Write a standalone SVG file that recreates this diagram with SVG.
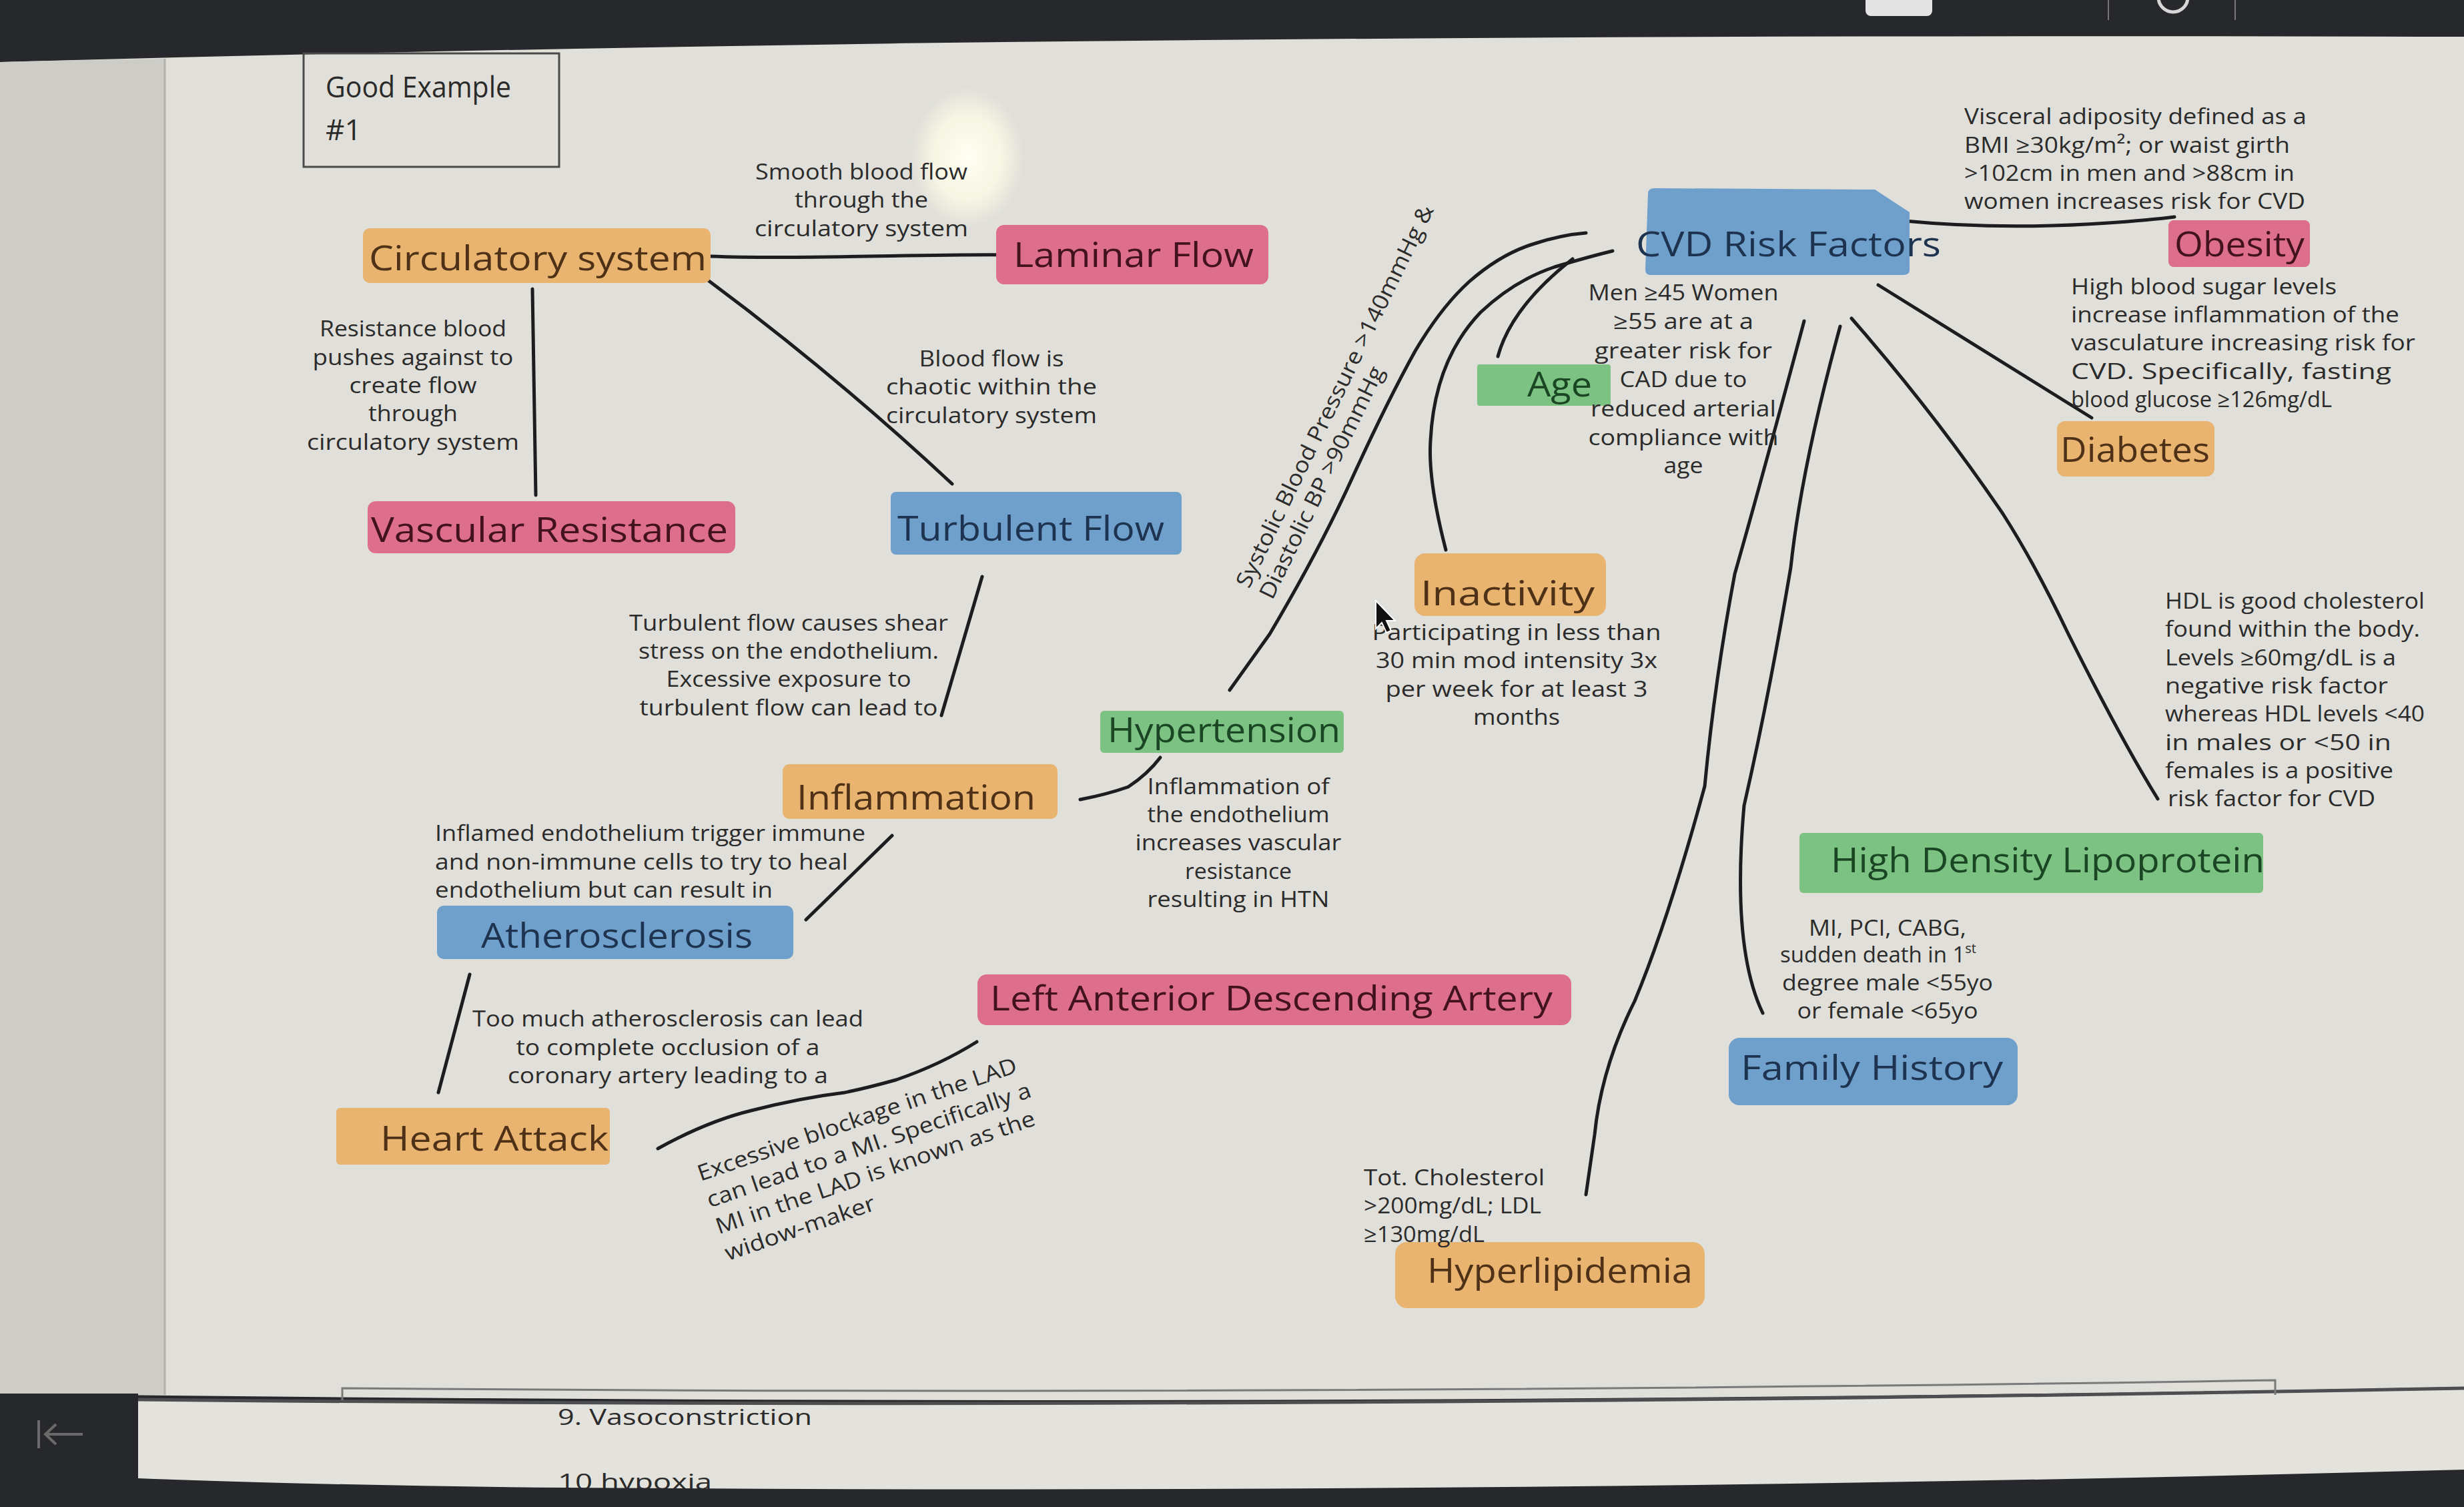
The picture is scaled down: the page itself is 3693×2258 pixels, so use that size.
<svg xmlns="http://www.w3.org/2000/svg" width="3693" height="2258" viewBox="0 0 3693 2258">
<style>
.lbl{font-family:"Open Sans","DejaVu Sans",sans-serif;font-size:52px;}
.ann{font-family:"Open Sans","DejaVu Sans",sans-serif;font-size:33px;fill:#2b2b2b;}
.c{text-anchor:middle;}
.edge{fill:none;stroke:#1d1d1f;stroke-width:5;stroke-linecap:round;stroke-linejoin:round;}
.or{fill:#e8b46f;} .pk{fill:#dd6f8d;} .bl{fill:#6f9fcb;} .gr{fill:#7cc282;}
.tor{fill:#4e3117;} .tpk{fill:#43121f;} .tbl{fill:#1d3350;} .tgr{fill:#1b4624;}
</style>
<defs>
<radialGradient id="glare" cx="0.5" cy="0.5" r="0.5">
<stop offset="0" stop-color="#fffff4" stop-opacity="1"/>
<stop offset="0.6" stop-color="#fdfbe6" stop-opacity="0.8"/>
<stop offset="1" stop-color="#fdfbe6" stop-opacity="0"/>
</radialGradient>
</defs>

<!-- background / photo frame -->
<rect x="0" y="0" width="3693" height="2258" fill="#26282b"/>
<path d="M0,93 Q900,68 1800,60 T3693,55 L3693,2078 Q1900,2112 0,2088 Z" fill="#e0dfd9"/>
<path d="M0,93 Q120,90 247,88 L247,2090 L0,2088 Z" fill="#cdccc7"/>
<line x1="247" y1="88" x2="247" y2="2090" stroke="#b3b2ad" stroke-width="3"/>
<path d="M207,2096 Q1900,2114 3693,2080 L3693,2240 L207,2240 Z" fill="#e3e2dd"/>
<path d="M207,2097 Q1900,2114 3693,2080" fill="none" stroke="#4d4e50" stroke-width="5"/>
<path d="M513,2098 L513,2080 Q1900,2092 3410,2068 L3410,2090" fill="none" stroke="#7a7a7a" stroke-width="3"/>
<ellipse cx="1450" cy="236" rx="85" ry="105" fill="url(#glare)"/>
<rect x="2796" y="-20" width="100" height="44" rx="8" fill="#e4e4e4"/>
<circle cx="3257" cy="-4" r="22" fill="none" stroke="#d6d6d6" stroke-width="5"/>
<line x1="3160" y1="0" x2="3160" y2="30" stroke="#777" stroke-width="2"/>
<line x1="3350" y1="0" x2="3350" y2="30" stroke="#777" stroke-width="2"/>

<!-- bottom list texts -->
<text class="ann" x="836" y="2135" font-size="44" fill="#333" textLength="381" lengthAdjust="spacingAndGlyphs">9. Vasoconstriction</text>
<text class="ann" x="836" y="2232" font-size="44" fill="#333" textLength="231" lengthAdjust="spacingAndGlyphs">10 hypoxia</text>
<path d="M0,2258 L0,2088 L207,2088 L207,2215 Q500,2226 848,2229 Q2300,2240 3693,2202 L3693,2258 Z" fill="#26282b"/>
<g stroke="#6a6a6a" stroke-width="4" fill="none">
<line x1="58" y1="2128" x2="58" y2="2170"/>
<line x1="68" y1="2149" x2="124" y2="2149"/>
<path d="M84,2134 L68,2149 L84,2164"/>
</g>

<!-- title box -->
<g id="title">
<rect x="455" y="80" width="383" height="170" fill="none" stroke="#4a4a4a" stroke-width="3"/>
<text x="488" y="146" font-family="Open Sans, DejaVu Sans, sans-serif" font-size="44" fill="#2a2a2a" textLength="278" lengthAdjust="spacingAndGlyphs">Good Example</text>
<text x="488" y="210" font-family="Open Sans, DejaVu Sans, sans-serif" font-size="44" fill="#2a2a2a">#1</text>
</g>

<!-- connectors -->
<g id="connectors">
<path class="edge" stroke-width="6" d="M1065,384 C1200,389 1400,380 1519,382"/>
<path class="edge" stroke-width="4" d="M798,433 L803,742"/>
<path class="edge" d="M1060,419 Q1250,560 1427,725"/>
<path class="edge" d="M1472,864 L1411,1072"/>
<path class="edge" stroke-width="6" d="M1619,1198 Q1660,1190 1691,1179 Q1720,1160 1739,1135"/>
<path class="edge" d="M1843,1034 L1903,950 Q1980,820 2030,709 Q2080,600 2121,526 Q2160,460 2202,422 Q2250,380 2300,365 Q2340,352 2377,349"/>
<path class="edge" d="M2167,824 Q2140,720 2144,660 Q2150,540 2219,468 Q2270,420 2330,400 Q2380,385 2417,376"/>
<path class="edge" d="M2245,534 Q2265,460 2357,388"/>
<path class="edge" d="M2855,331 Q3000,345 3160,334 Q3220,330 3259,325"/>
<path class="edge" d="M2815,427 L3135,626"/>
<path class="edge" d="M2775,477 Q2900,620 3002,770 Q3050,845 3100,950 Q3180,1110 3234,1197"/>
<path class="edge" d="M2758,489 Q2700,700 2684,850 Q2650,1050 2614,1207 Q2595,1420 2642,1518"/>
<path class="edge" d="M2704,481 Q2640,720 2600,860 Q2570,1020 2555,1178 Q2500,1380 2450,1500 Q2400,1600 2390,1700 L2377,1790"/>
<path class="edge" d="M1337,1252 L1208,1378"/>
<path class="edge" stroke-width="4" d="M704,1460 L657,1637"/>
<path class="edge" stroke-width="7" d="M986,1721 Q1060,1680 1126,1664 Q1200,1645 1266,1637 Q1300,1630 1343,1618 Q1410,1595 1464,1561"/>
</g>

<!-- nodes -->
<g id="n-circulatory"><rect class="or" x="544" y="342" width="521" height="82" rx="10"/><text class="lbl tor" x="553" y="405" textLength="506" lengthAdjust="spacingAndGlyphs">Circulatory system</text></g>
<g id="n-laminar"><rect class="pk" x="1493" y="337" width="408" height="89" rx="12"/><text class="lbl tpk" x="1519" y="400" textLength="360" lengthAdjust="spacingAndGlyphs">Laminar Flow</text></g>
<g id="n-vascular"><rect class="pk" x="551" y="751" width="551" height="78" rx="12"/><text class="lbl tpk" x="556" y="812" textLength="535" lengthAdjust="spacingAndGlyphs">Vascular Resistance</text></g>
<g id="n-turbulent"><rect class="bl" x="1335" y="737" width="436" height="94" rx="8"/><text class="lbl tbl" x="1345" y="810" textLength="400" lengthAdjust="spacingAndGlyphs">Turbulent Flow</text></g>
<g id="n-inflammation"><rect class="or" x="1173" y="1145" width="412" height="82" rx="10"/><text class="lbl tor" x="1194" y="1213" textLength="358" lengthAdjust="spacingAndGlyphs">Inflammation</text></g>
<g id="n-hypertension"><rect class="gr" x="1649" y="1065" width="365" height="63" rx="6"/><text class="lbl tgr" x="1660" y="1112" font-size="48" textLength="349" lengthAdjust="spacingAndGlyphs">Hypertension</text></g>
<g id="n-atherosclerosis"><rect class="bl" x="655" y="1357" width="534" height="80" rx="10"/><text class="lbl tbl" x="721" y="1420" textLength="407" lengthAdjust="spacingAndGlyphs">Atherosclerosis</text></g>
<g id="n-lad"><rect class="pk" x="1465" y="1460" width="890" height="76" rx="14"/><text class="lbl tpk" x="1484" y="1514" textLength="843" lengthAdjust="spacingAndGlyphs">Left Anterior Descending Artery</text></g>
<g id="n-heartattack"><rect class="or" x="504" y="1660" width="410" height="85" rx="6"/><text class="lbl tor" x="570" y="1724" textLength="342" lengthAdjust="spacingAndGlyphs">Heart Attack</text></g>
<g id="n-hyperlipidemia"><rect class="or" x="2091" y="1861" width="464" height="99" rx="18"/><text class="lbl tor" x="2139" y="1922" textLength="398" lengthAdjust="spacingAndGlyphs">Hyperlipidemia</text></g>
<g id="n-inactivity"><rect class="or" x="2120" y="829" width="287" height="94" rx="16"/><text class="lbl tor" x="2129" y="907" textLength="261" lengthAdjust="spacingAndGlyphs">Inactivity</text></g>
<g id="n-age"><rect class="gr" x="2214" y="546" width="200" height="62" rx="4"/><text class="lbl tgr" x="2289" y="594" textLength="97" lengthAdjust="spacingAndGlyphs">Age</text></g>
<g id="n-cvd"><path class="bl" d="M2470,290 Q2470,282 2480,282 L2810,284 L2862,318 L2862,405 Q2862,412 2852,412 L2474,412 Q2466,412 2466,404 Z"/><text class="lbl tbl" x="2452" y="384" textLength="457" lengthAdjust="spacingAndGlyphs">CVD Risk Factors</text></g>
<g id="n-obesity"><rect class="pk" x="3250" y="330" width="212" height="70" rx="8"/><text class="lbl tpk" x="3259" y="384" textLength="195" lengthAdjust="spacingAndGlyphs">Obesity</text></g>
<g id="n-diabetes"><rect class="or" x="3083" y="631" width="236" height="83" rx="12"/><text class="lbl tor" x="3088" y="692" textLength="224" lengthAdjust="spacingAndGlyphs">Diabetes</text></g>
<g id="n-hdl"><rect class="gr" x="2697" y="1248" width="695" height="90" rx="6"/><text class="lbl tgr" x="2744" y="1307" textLength="650" lengthAdjust="spacingAndGlyphs">High Density Lipoprotein</text></g>
<g id="n-familyhistory"><rect class="bl" x="2591" y="1555" width="433" height="101" rx="16"/><text class="lbl tbl" x="2609" y="1618" textLength="393" lengthAdjust="spacingAndGlyphs">Family History</text></g>

<!-- annotations -->
<g id="annotations">
<text class="ann c" x="1291" y="269" textLength="318" lengthAdjust="spacingAndGlyphs">Smooth blood flow</text>
<text class="ann c" x="1291" y="311" textLength="200" lengthAdjust="spacingAndGlyphs">through the</text>
<text class="ann c" x="1291" y="354" textLength="320" lengthAdjust="spacingAndGlyphs">circulatory system</text>

<text class="ann c" x="619" y="504" textLength="280" lengthAdjust="spacingAndGlyphs">Resistance blood</text>
<text class="ann c" x="619" y="547" textLength="301" lengthAdjust="spacingAndGlyphs">pushes against to</text>
<text class="ann c" x="619" y="589" textLength="191" lengthAdjust="spacingAndGlyphs">create flow</text>
<text class="ann c" x="619" y="631" textLength="134" lengthAdjust="spacingAndGlyphs">through</text>
<text class="ann c" x="619" y="674" textLength="318" lengthAdjust="spacingAndGlyphs">circulatory system</text>

<text class="ann c" x="1486" y="549" textLength="217" lengthAdjust="spacingAndGlyphs">Blood flow is</text>
<text class="ann c" x="1486" y="591" textLength="316" lengthAdjust="spacingAndGlyphs">chaotic within the</text>
<text class="ann c" x="1486" y="634" textLength="316" lengthAdjust="spacingAndGlyphs">circulatory system</text>

<text class="ann c" x="1182" y="945" textLength="478" lengthAdjust="spacingAndGlyphs">Turbulent flow causes shear</text>
<text class="ann c" x="1182" y="987" textLength="450" lengthAdjust="spacingAndGlyphs">stress on the endothelium.</text>
<text class="ann c" x="1182" y="1029" textLength="367" lengthAdjust="spacingAndGlyphs">Excessive exposure to</text>
<text class="ann c" x="1182" y="1072" textLength="447" lengthAdjust="spacingAndGlyphs">turbulent flow can lead to</text>

<text class="ann" x="652" y="1260" textLength="645" lengthAdjust="spacingAndGlyphs">Inflamed endothelium trigger immune</text>
<text class="ann" x="652" y="1303" textLength="619" lengthAdjust="spacingAndGlyphs">and non-immune cells to try to heal</text>
<text class="ann" x="652" y="1345" textLength="506" lengthAdjust="spacingAndGlyphs">endothelium but can result in</text>

<text class="ann c" x="1856" y="1190" textLength="273" lengthAdjust="spacingAndGlyphs">Inflammation of</text>
<text class="ann c" x="1856" y="1232" textLength="273" lengthAdjust="spacingAndGlyphs">the endothelium</text>
<text class="ann c" x="1856" y="1274" textLength="309" lengthAdjust="spacingAndGlyphs">increases vascular</text>
<text class="ann c" x="1856" y="1317" textLength="160" lengthAdjust="spacingAndGlyphs">resistance</text>
<text class="ann c" x="1856" y="1359" textLength="273" lengthAdjust="spacingAndGlyphs">resulting in HTN</text>

<text class="ann c" x="1001" y="1538" textLength="586" lengthAdjust="spacingAndGlyphs">Too much atherosclerosis can lead</text>
<text class="ann c" x="1001" y="1581" textLength="455" lengthAdjust="spacingAndGlyphs">to complete occlusion of a</text>
<text class="ann c" x="1001" y="1623" textLength="480" lengthAdjust="spacingAndGlyphs">coronary artery leading to a</text>

<g transform="rotate(-19 1050 1770)">
<text class="ann" x="1050" y="1770" font-size="36" textLength="504" lengthAdjust="spacingAndGlyphs">Excessive blockage in the LAD</text>
<text class="ann" x="1050" y="1812" font-size="36" textLength="512" lengthAdjust="spacingAndGlyphs">can lead to a MI. Specifically a</text>
<text class="ann" x="1050" y="1854" font-size="36" textLength="504" lengthAdjust="spacingAndGlyphs">MI in the LAD is known as the</text>
<text class="ann" x="1050" y="1896" font-size="36" textLength="236" lengthAdjust="spacingAndGlyphs">widow-maker</text>
</g>

<g transform="rotate(-64 1872 883)">
<text class="ann" x="1872" y="883" font-size="35" textLength="633" lengthAdjust="spacingAndGlyphs">Systolic Blood Pressure &gt;140mmHg &amp;</text>
<text class="ann" x="1872" y="922" font-size="35" textLength="383" lengthAdjust="spacingAndGlyphs">Diastolic BP &gt;90mmHg</text>
</g>

<text class="ann c" x="2523" y="450" textLength="285" lengthAdjust="spacingAndGlyphs">Men ≥45 Women</text>
<text class="ann c" x="2523" y="493" textLength="210" lengthAdjust="spacingAndGlyphs">≥55 are at a</text>
<text class="ann c" x="2523" y="537" textLength="266" lengthAdjust="spacingAndGlyphs">greater risk for</text>
<text class="ann c" x="2523" y="580" textLength="191" lengthAdjust="spacingAndGlyphs">CAD due to</text>
<text class="ann c" x="2523" y="624" textLength="278" lengthAdjust="spacingAndGlyphs">reduced arterial</text>
<text class="ann c" x="2523" y="667" textLength="285" lengthAdjust="spacingAndGlyphs">compliance with</text>
<text class="ann c" x="2523" y="709" textLength="59" lengthAdjust="spacingAndGlyphs">age</text>

<text class="ann c" x="2273" y="959" textLength="433" lengthAdjust="spacingAndGlyphs">Participating in less than</text>
<text class="ann c" x="2273" y="1001" textLength="422" lengthAdjust="spacingAndGlyphs">30 min mod intensity 3x</text>
<text class="ann c" x="2273" y="1044" textLength="393" lengthAdjust="spacingAndGlyphs">per week for at least 3</text>
<text class="ann c" x="2273" y="1086" textLength="130" lengthAdjust="spacingAndGlyphs">months</text>

<text class="ann" x="2944" y="186" textLength="513" lengthAdjust="spacingAndGlyphs">Visceral adiposity defined as a</text>
<text class="ann" x="2944" y="229" textLength="488" lengthAdjust="spacingAndGlyphs">BMI ≥30kg/m²; or waist girth</text>
<text class="ann" x="2944" y="271" textLength="495" lengthAdjust="spacingAndGlyphs">&gt;102cm in men and &gt;88cm in</text>
<text class="ann" x="2944" y="313" textLength="511" lengthAdjust="spacingAndGlyphs">women increases risk for CVD</text>

<text class="ann" x="3104" y="441" textLength="398" lengthAdjust="spacingAndGlyphs">High blood sugar levels</text>
<text class="ann" x="3104" y="483" textLength="492" lengthAdjust="spacingAndGlyphs">increase inflammation of the</text>
<text class="ann" x="3104" y="525" textLength="516" lengthAdjust="spacingAndGlyphs">vasculature increasing risk for</text>
<text class="ann" x="3104" y="568" textLength="480" lengthAdjust="spacingAndGlyphs">CVD. Specifically, fasting</text>
<text class="ann" x="3104" y="610" textLength="391" lengthAdjust="spacingAndGlyphs">blood glucose ≥126mg/dL</text>

<text class="ann" x="3245" y="912" textLength="389" lengthAdjust="spacingAndGlyphs">HDL is good cholesterol</text>
<text class="ann" x="3245" y="954" textLength="382" lengthAdjust="spacingAndGlyphs">found within the body.</text>
<text class="ann" x="3245" y="997" textLength="346" lengthAdjust="spacingAndGlyphs">Levels ≥60mg/dL is a</text>
<text class="ann" x="3245" y="1039" textLength="334" lengthAdjust="spacingAndGlyphs">negative risk factor</text>
<text class="ann" x="3245" y="1081" textLength="389" lengthAdjust="spacingAndGlyphs">whereas HDL levels &lt;40</text>
<text class="ann" x="3245" y="1124" textLength="339" lengthAdjust="spacingAndGlyphs">in males or &lt;50 in</text>
<text class="ann" x="3245" y="1166" textLength="342" lengthAdjust="spacingAndGlyphs">females is a positive</text>
<text class="ann" x="3249" y="1208" textLength="311" lengthAdjust="spacingAndGlyphs">risk factor for CVD</text>

<text class="ann c" x="2829" y="1402" textLength="236" lengthAdjust="spacingAndGlyphs">MI, PCI, CABG,</text>
<text class="ann" x="2668" y="1442">sudden death in 1<tspan font-size="20" dy="-14">st</tspan></text>
<text class="ann c" x="2829" y="1484" textLength="316" lengthAdjust="spacingAndGlyphs">degree male &lt;55yo</text>
<text class="ann c" x="2829" y="1526" textLength="271" lengthAdjust="spacingAndGlyphs">or female &lt;65yo</text>

<text class="ann" x="2044" y="1776" textLength="271" lengthAdjust="spacingAndGlyphs">Tot. Cholesterol</text>
<text class="ann" x="2044" y="1818" textLength="266" lengthAdjust="spacingAndGlyphs">&gt;200mg/dL; LDL</text>
<text class="ann" x="2044" y="1861" textLength="181" lengthAdjust="spacingAndGlyphs">≥130mg/dL</text>
</g>

<!-- mouse cursor -->
<path d="M2062,900 L2062,942 L2071,933 L2078,948 L2085,945 L2078,930 L2091,930 Z" fill="#111" stroke="#fff" stroke-width="2"/>
</svg>
